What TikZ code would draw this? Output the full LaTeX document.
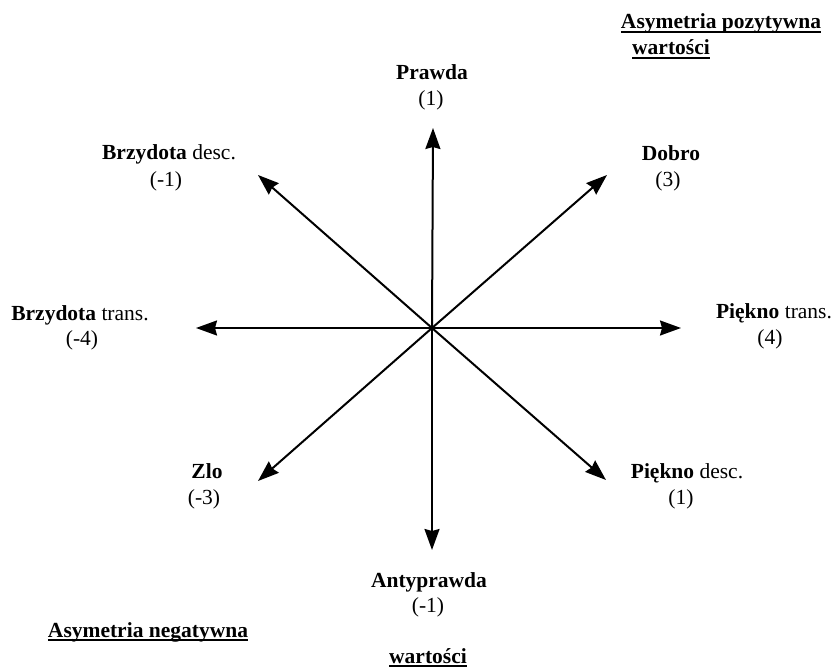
\documentclass[tikz,border=0pt]{standalone}
\usepackage{fontspec}
\setmainfont{Liberation Serif}
\usetikzlibrary{arrows.meta}
\begin{document}
\begin{tikzpicture}[x=1pt,y=-1pt,
  lbl/.style={inner sep=0pt,anchor=base,font=\fontsize{21.5}{26}\selectfont},
  ttl/.style={inner sep=0pt,anchor=base,font=\fontsize{21.5}{26}\selectfont\bfseries},
  ul/.style={line width=1.4pt},
  arr/.style={line width=2pt,-{Stealth[length=21pt,width=15pt,inset=2pt]}}]
\useasboundingbox[fill=white] (0,0) rectangle (834,668);
% centre and arrow tips
\coordinate (O) at (432,328);
\coordinate (tN) at (433,128);
\coordinate (tS) at (432,550);
\coordinate (tW) at (196,328);
\coordinate (tE) at (681,328);
\coordinate (tNW) at (258,175);
\coordinate (tNE) at (607,175);
\coordinate (tSW) at (258,481);
\coordinate (tSE) at (606,480);
\foreach \t in {tN,tS,tW,tE,tNW,tNE,tSW,tSE} \draw[arr] (O) -- (\t);
% labels
\node[lbl] (prawda) at (432,80) {\textbf{Prawda}};
\node[lbl] (prawdav) at (431,106) {(1)};
\node[lbl] (brzd) at (169,160) {\textbf{Brzydota} desc.};
\node[lbl] (brzdv) at (166,187) {(-1)};
\node[lbl] (dobro) at (671,161) {\textbf{Dobro}};
\node[lbl] (dobrov) at (668,187) {(3)};
\node[lbl] (brzt) at (80,320) {\textbf{Brzydota} trans.};
\node[lbl] (brztv) at (82,345) {(-4)};
\node[lbl] (piet) at (774,318) {\textbf{Piękno} trans.};
\node[lbl] (pietv) at (770,344) {(4)};
\node[lbl] (zlo) at (207,478) {\textbf{Zlo}};
\node[lbl] (zlov) at (204,504) {(-3)};
\node[lbl] (pied) at (687,478) {\textbf{Piękno} desc.};
\node[lbl] (piedv) at (681,504) {(1)};
\node[lbl] (anty) at (429,587) {\textbf{Antyprawda}};
\node[lbl] (antyv) at (428,612) {(-1)};
% titles
\node[ttl] (apoz) at (721,29) {Asymetria pozytywna};
\node[ttl,anchor=base west] (wpoz) at (632,55) {wartości};
\node[ttl] (aneg) at (148,637) {Asymetria negatywna};
\node[ttl] (wneg) at (428,663) {wartości};
\foreach \n in {apoz,wpoz,aneg,wneg}
  \draw[ul] ([yshift=-3pt]\n.base west) -- ([yshift=-3pt]\n.base east);
\end{tikzpicture}
\end{document}
